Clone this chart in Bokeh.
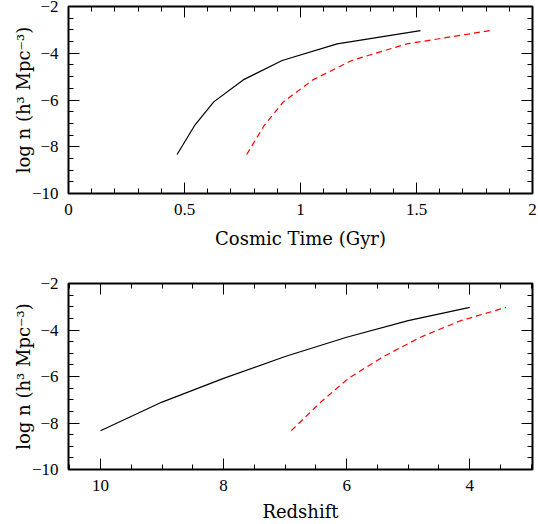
from bokeh.plotting import figure
from bokeh.layouts import column
from bokeh.models import LinearAxis, SingleIntervalTicker, Range1d, CustomLabelingPolicy
from bokeh.embed import file_html
from bokeh.resources import INLINE

# ---- data ----
log_n = [-8.33, -7.10, -6.08, -5.14, -4.31, -3.60, -3.03]
time_solid = [0.468, 0.543, 0.626, 0.753, 0.921, 1.158, 1.517]
time_dashed = [0.768, 0.843, 0.926, 1.053, 1.221, 1.458, 1.817]
z_solid = [10, 9, 8, 7, 6, 5, 4]
z_dashed = [6.90, 6.42, 5.97, 5.40, 4.80, 4.15, 3.41]

time_ticks = {0: "0", 0.5: "0.5", 1: "1", 1.5: "1.5", 2: "2"}
z_ticks = {10: "10", 8: "8", 6: "6", 4: "4"}
y_ticks = {-2: "\u22122", -4: "\u22124", -6: "\u22126", -8: "\u22128", -10: "\u221210"}

YLABEL = "log n (h\u00b3 Mpc\u207b\u00b3)"
TICK_FONT = "Liberation Serif"
LABEL_FONT = "DejaVu Serif"

NO_LABELS = "for (const i of Array.from(indices)) { indices.unset(i) } return indices"


def style_axis(ax, overrides, show_labels=True):
    ax.axis_line_color = None
    ax.major_tick_in = 11
    ax.major_tick_out = 0
    ax.minor_tick_in = 5
    ax.minor_tick_out = 0
    ax.major_tick_line_color = "black"
    ax.minor_tick_line_color = "black"
    ax.major_tick_line_width = 1
    ax.minor_tick_line_width = 1
    if show_labels:
        ax.major_label_overrides = overrides
        ax.major_label_text_font = TICK_FONT
        ax.major_label_text_font_size = "17px"
        ax.major_label_text_color = "black"
        ax.major_label_standoff = 10
        ax.axis_label_text_font = LABEL_FONT
        ax.axis_label_text_font_size = "18px"
        ax.axis_label_text_font_style = "normal"
        ax.axis_label_text_color = "black"
    else:
        ax.major_label_text_font_size = "1px"
        ax.major_label_standoff = 0
        ax.major_label_policy = CustomLabelingPolicy(code=NO_LABELS)
        ax.axis_label = None


def make_fig(height, top, bottom, x_range, x_interval, x_minor, xlabel, x_overrides, xlab_standoff):
    p = figure(width=538, height=height, output_backend="svg", toolbar_location=None,
               x_range=x_range, y_range=Range1d(-10, -2),
               min_border_left=68, min_border_right=6,
               min_border_top=top, min_border_bottom=bottom,
               x_axis_label=xlabel, y_axis_label=YLABEL)
    p.grid.visible = False
    p.outline_line_color = "black"
    p.outline_line_width = 2
    p.background_fill_color = "white"
    p.border_fill_color = "white"

    xt = SingleIntervalTicker(interval=x_interval, num_minor_ticks=x_minor)
    yt = SingleIntervalTicker(interval=2, num_minor_ticks=4)
    p.xaxis.ticker = xt
    p.yaxis.ticker = yt
    style_axis(p.xaxis[0], x_overrides)
    style_axis(p.yaxis[0], y_ticks)
    p.xaxis[0].axis_label_standoff = xlab_standoff
    p.yaxis[0].axis_label_standoff = -5

    top_ax = LinearAxis(ticker=xt)
    style_axis(top_ax, None, show_labels=False)
    p.add_layout(top_ax, "above")
    right_ax = LinearAxis(ticker=yt)
    style_axis(right_ax, None, show_labels=False)
    p.add_layout(right_ax, "right")
    return p


p1 = make_fig(266, 6, 73, Range1d(0, 2), 0.5, 5, "Cosmic Time (Gyr)", time_ticks, 10)
p1.line(time_solid, log_n, line_color="black", line_width=1.2)
p1.line(time_dashed, log_n, line_color="#ff0000", line_width=1.2, line_dash="6 4")

p2 = make_fig(258, 17, 54, Range1d(10.52, 2.98), 2, 4, "Redshift", z_ticks, 7)
p2.line(z_solid, log_n, line_color="black", line_width=1.2)
p2.line(z_dashed, log_n, line_color="#ff0000", line_width=1.2, line_dash="6 4")

layout = column(p1, p2, spacing=0)

open("out.html", "w").write(file_html(layout, INLINE))
